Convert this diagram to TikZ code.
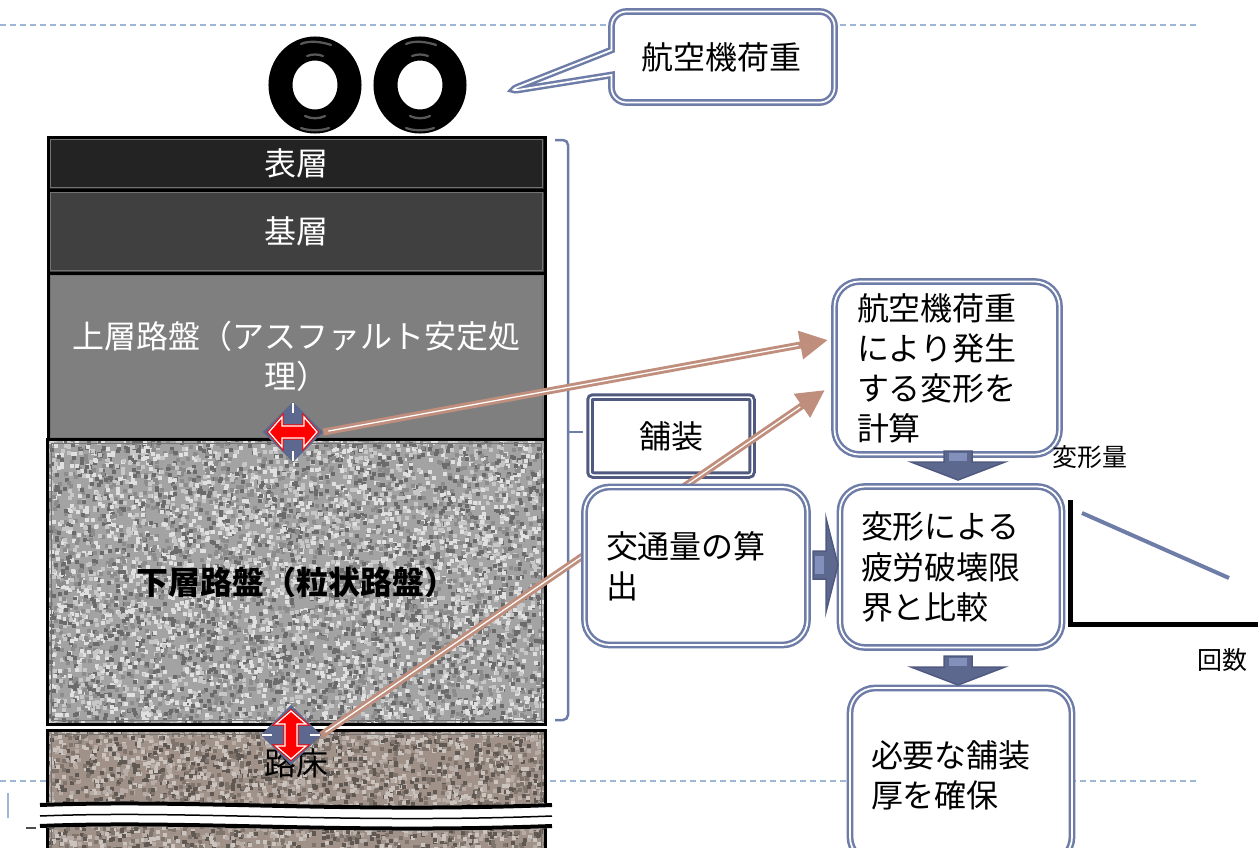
\documentclass[tikz,border=0pt]{standalone}
\usepackage{fontspec}
\setmainfont{Noto Sans CJK JP}
\usepackage{tikz}
\usetikzlibrary{arrows.meta,positioning,calc,fit,shapes.geometric,shapes.callouts}

\definecolor{slate}{RGB}{110,124,168}
\definecolor{slatedk}{RGB}{80,90,128}
\definecolor{slatefill}{RGB}{92,104,142}
\definecolor{slatelt}{RGB}{132,144,188}
\definecolor{loadbrn}{RGB}{192,142,124}
\definecolor{guide}{RGB}{158,182,214}
\definecolor{surf}{RGB}{35,35,35}
\definecolor{binder}{RGB}{64,64,64}
\definecolor{upbase}{RGB}{127,127,127}
\definecolor{gravel}{RGB}{163,163,163}
\definecolor{soil}{RGB}{160,146,136}

\newcommand{\bigjp}{\fontsize{18.2}{22.8}\selectfont}
\newcommand{\smalljp}{\fontsize{14.2}{17}\selectfont}
% random grain inside a box: x0, y0, w, h, count
\newcommand{\speckle}[5]{%
  \foreach \i in {1,...,#5}{%
    \pgfmathsetmacro{\gx}{#1+#3*rnd}%
    \pgfmathsetmacro{\gy}{#2+#4*rnd}%
    \pgfmathtruncatemacro{\gk}{mod(\i,4)}%
    \ifcase\gk\relax\def\gc{grainA}\or\def\gc{grainB}\or\def\gc{grainC}\else\def\gc{grainD}\fi
    \fill[\gc] (\gx,\gy) rectangle ++(4,4);
  }%
}

\begin{document}
\begin{tikzpicture}[
   x=0.2mm, y=-0.2mm, >=latex,
   layer/.style={draw=black,line width=0.6mm,inner sep=0pt},
   laytxt/.style={text=white,font=\bigjp,align=center},
   flow/.style={draw=slate,double=white,double distance=0.35mm,line width=0.5mm,
     rounded corners=5mm,fill=white,align=left,text width=36mm,font=\bigjp,inner sep=0pt},
   pave/.style={draw=slatedk,double=white,double distance=0.3mm,line width=0.6mm,
     rounded corners=0.6mm,fill=white,minimum width=32.4mm,minimum height=15.6mm,font=\bigjp},
   tire/.style={ellipse,draw=black,line width=4.8mm,minimum width=13.8mm,minimum height=14.6mm,inner sep=0pt},
   gloss/.style={gray!45,line width=0.45mm,opacity=0.45,line cap=round},
   gauge/.style={diamond,aspect=1,fill=slatefill,minimum width=12mm,minimum height=12mm,inner sep=0pt},
   load/.style={draw=loadbrn,line width=1.4mm,-{Triangle[length=5.6mm,width=5.4mm]},
     postaction={draw=white,line width=0.25mm,-,shorten >=6mm,shorten <=1mm}},
   axlbl/.style={font=\smalljp,inner sep=1pt},
   dblarr/.pic={
     \draw[white,line width=0.3mm] (0,-29) -- (0,-19) (0,19) -- (0,29);
     \filldraw[fill=red,draw=red,double=white,double distance=0.25mm,line width=0.2mm]
       (-24,0) -- (-11,-15) -- (-11,-6) -- (11,-6) -- (11,-15) -- (24,0)
       -- (11,15) -- (11,6) -- (-11,6) -- (-11,15) -- cycle;
   },
   blkdown/.pic={
     \filldraw[fill=slatefill,draw=slatedk,line width=0.3mm]
       (-14,0) -- (14,0) -- (14,11) -- (47,11) -- (0,29) -- (-47,11) -- (-14,11) -- cycle;
     \fill[slatelt] (-9,2) rectangle (9,10);
   },
   blkright/.pic={
     \filldraw[fill=slatefill,draw=slatedk,line width=0.3mm]
       (0,-14) -- (13,-14) -- (13,-47) -- (25,0) -- (13,47) -- (13,14) -- (0,14) -- cycle;
     \fill[slatelt] (2,-9) rectangle (11,9);
   }]
  \useasboundingbox (0,0) rectangle (1258,848);

  % slide guides
  \draw[guide,line width=0.3mm,dash pattern=on 1.2mm off 0.8mm] (0,25) -- (1200,25);
  \draw[guide,line width=0.3mm,dash pattern=on 1.2mm off 0.8mm] (0,781) -- (1200,781);
  \draw[guide,line width=0.5mm] (8,793) -- (8,818);
  \draw[black!70,line width=0.3mm] (26,828) -- (36,828);

  % wheels and load callout
  \node[tire] (tireL) at (315,85) {};
  \node[tire] (tireR) at (420,85) {};
  \foreach \w in {tireL,tireR}{
    \draw[gloss] ([shift={(-14,-41)}]\w.center) .. controls +(8,-4) and +(-8,-3) .. ([shift={(16,-40)}]\w.center);
    \draw[gloss] ([shift={(-8,-29)}]\w.center) .. controls +(5,-2) and +(-5,-2) .. ([shift={(8,-29)}]\w.center);
    \draw[gloss] ([shift={(-10,31)}]\w.center) .. controls +(6,3) and +(-6,3) .. ([shift={(10,31)}]\w.center);
    \draw[gloss] ([shift={(-14,43)}]\w.center) .. controls +(8,3) and +(-8,3) .. ([shift={(14,43)}]\w.center);
  }
  \coordinate (wheelpt) at (505,92);
  \node[flow,rectangle callout,rounded corners=3mm,text width=32.6mm,minimum width=44.6mm,
    minimum height=18.2mm,callout absolute pointer={(wheelpt)},callout pointer width=5mm]
    (loadcall) at (723,57) {航空機荷重};

  % pavement layers
  \node[layer,fill=surf,fit={(48,137) (545,190)},label={[laytxt]center:表層}] (hyoso) {};
  \node[layer,fill=binder,fit={(48,190) (545,273)},label={[laytxt]center:基層}] (kiso) {};
  \node[layer,fill=upbase,fit={(48,273) (545,440)},
    label={[laytxt]center:上層路盤（アスファルト安定処\\理）}] (joso) {};
  \node[fill=gravel,inner sep=0pt,fit={(48,440) (545,724)}] (kaso) {};
  \node[fill=soil,inner sep=0pt,fit={(48,731) (545,870)}] (roshou) {};
  \begin{scope}
    \clip (48,440) rectangle (545,724);
    \colorlet{grainA}{black!12}\colorlet{grainB}{black!58}
    \colorlet{grainC}{black!22}\colorlet{grainD}{black!45}
    \pgfmathsetseed{11}
    \speckle{44}{436}{501}{288}{7000}
  \end{scope}
  \begin{scope}
    \clip (48,731) rectangle (545,870);
    \colorlet{grainA}{white!45!soil}\colorlet{grainB}{black!40!soil}
    \colorlet{grainC}{white!25!soil}\colorlet{grainD}{black!20!soil}
    \pgfmathsetseed{5}
    \speckle{44}{727}{501}{143}{3600}
  \end{scope}
  \foreach \L in {kaso,roshou}
    \draw[line width=0.6mm] (\L.north west) rectangle (\L.south east);
  \foreach \L in {hyoso,kiso,joso,kaso,roshou}
    \draw[black!55,line width=0.15mm] ([shift={(4,4)}]\L.north west) rectangle ([shift={(-4,-4)}]\L.south east);
  \node[font=\bigjp\bfseries] (kasoT) at (kaso) {下層路盤（粒状路盤）};
  \node[font=\bigjp] (roshouT) at (296,763) {路床};

  % cut in the subgrade
  \fill[white] (40,803) .. controls (190,797) and (340,812) .. (552,803)
    -- (552,828) .. controls (340,836) and (190,822) .. (40,828) -- cycle;
  \draw[line width=0.8mm] (40,805) .. controls (190,799) and (340,813) .. (552,805);
  \draw[line width=0.3mm] (40,816) .. controls (190,810) and (340,824) .. (552,816);
  \draw[line width=0.8mm] (40,826) .. controls (190,820) and (340,834) .. (552,826);

  % pavement bracket
  \draw[slate,line width=0.5mm,rounded corners=1mm] (555,140) -- (568,140) -- (568,720) -- (555,720);
  \draw[slate,line width=0.5mm] (568,432) -- (583,432);
  \node[pave] (pavebox) at (671,436) {舗装};

  % strain points
  \coordinate (hitA) at (828,340);
  \coordinate (hitB) at (825,390);
  \node[gauge] (gaugeA) at (293,432) {};
  \node[gauge] (gaugeB) at (291,735) {};
  \draw[load] (gaugeA.east) -- (hitA);
  \draw[load] (gaugeB.east) -- (hitB);
  \node[gauge] at (gaugeA) {};
  \node[gauge] at (gaugeB) {};
  \pic at (gaugeA) {dblarr};
  \pic[rotate=90] at (gaugeB) {dblarr};

  % design flow
  \node[flow,minimum width=45mm,minimum height=34.6mm] (calcbox) at (947,368) {航空機荷重\\により発生\\する変形を\\計算};
  \node[flow,minimum width=44.6mm,minimum height=31.6mm] (trafbox) at (696,566) {交通量の算\\出};
  \node[flow,minimum width=44.4mm,minimum height=32.2mm] (fatbox) at (951,567) {変形による\\疲労破壊限\\界と比較};
  \node[flow,minimum width=44.4mm,minimum height=34.8mm] (needbox) at (961,775) {必要な舗装\\厚を確保};
  \pic at (958,451) {blkdown};
  \pic at (958,656) {blkdown};
  \pic at (813,565) {blkright};

  % fatigue curve
  \coordinate (gtop) at (1070,500);
  \coordinate (gorig) at (1070,624);
  \coordinate (gend) at (1258,624);
  \draw[line width=1mm] (gtop) -- (gorig) -- (gend);
  \draw[slate,line width=0.8mm] (1082,513) -- (1229,578);
  \node[axlbl] (deform) at (1090,457) {変形量};
  \node[axlbl] (cycles) at (1222,660) {回数};
\end{tikzpicture}
\end{document}
